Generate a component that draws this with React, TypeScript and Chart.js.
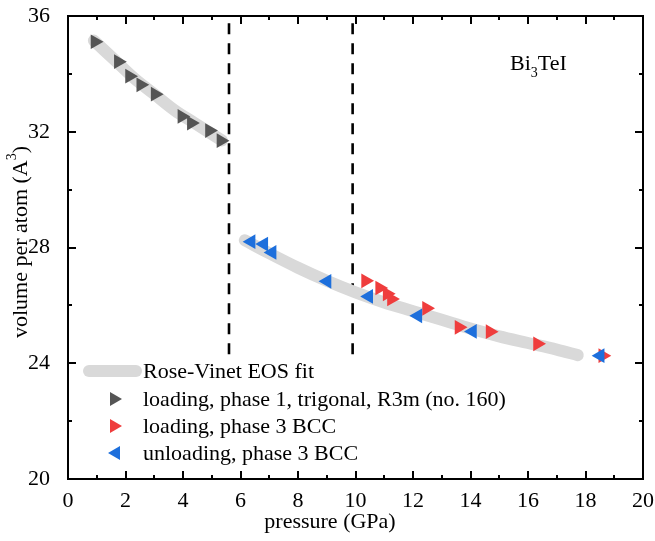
import React, { useEffect, useRef } from "react";
import { Chart, registerables } from "chart.js";

Chart.register(...registerables);

// ---- data ----
const phase1X = [0.94, 1.75, 2.14, 2.53, 3.03, 3.96, 4.29, 4.92, 5.32];
const phase1Y = [35.11, 34.42, 33.92, 33.62, 33.3, 32.53, 32.3, 32.04, 31.69];

const loadBccX = [10.35, 10.84, 11.1, 11.25, 12.47, 13.6, 14.68, 16.33, 18.6];
const loadBccY = [26.85, 26.6, 26.4, 26.22, 25.9, 25.24, 25.09, 24.67, 24.26];

const unloadBccX = [6.37, 6.81, 7.1, 9.01, 10.46, 12.17, 14.07, 18.51];
const unloadBccY = [28.2, 28.12, 27.83, 26.83, 26.31, 25.64, 25.1, 24.26];

const fit1X = [0.9, 1.6, 2.3, 3.0, 3.7, 4.4, 5.35];
const fit1Y = [35.15, 34.5, 33.85, 33.3, 32.75, 32.3, 31.7];

const fit3X = [6.15, 7, 8, 9, 10, 11, 12, 13, 14, 15, 16, 17, 17.73];
const fit3Y = [28.25, 27.8, 27.3, 26.85, 26.45, 26.1, 25.8, 25.5, 25.2, 24.93, 24.7, 24.47, 24.28];

const boundaryX = [5.6, 9.9];
const boundaryY = [24.2, 35.75];

const legendLabels = [
  "Rose-Vinet EOS fit",
  "loading, phase 1, trigonal, R3m (no. 160)",
  "loading, phase 3 BCC",
  "unloading, phase 3 BCC",
];

const xTicks = [0, 2, 4, 6, 8, 10, 12, 14, 16, 18, 20];
const yTicks = [20, 24, 28, 32, 36];

const FONT = "'Liberation Serif', 'Times New Roman', serif";
const GREY = "#555555";
const RED = "#ef3d3d";
const BLUE = "#1d6fdc";
const FIT = "#d9d9d9";

const zip = (xs: number[], ys: number[]) => xs.map((x, i) => ({ x, y: ys[i] }));

const decorPlugin = {
  id: "decor",
  afterDatasetsDraw(chart: any) {
    const { ctx, chartArea: a, scales } = chart;
    const xs = scales.x;
    const ys = scales.y;
    ctx.save();
    // frame
    ctx.strokeStyle = "#000";
    ctx.lineWidth = 2;
    ctx.strokeRect(a.left, a.top, a.right - a.left, a.bottom - a.top);
    // ticks
    ctx.lineWidth = 2;
    for (let v = 0; v <= 20; v += 1) {
      const px = Math.round(xs.getPixelForValue(v));
      const len = v % 2 === 0 ? 8 : 4;
      ctx.beginPath();
      ctx.moveTo(px, a.bottom);
      ctx.lineTo(px, a.bottom - len);
      ctx.moveTo(px, a.top);
      ctx.lineTo(px, a.top + len);
      ctx.stroke();
    }
    for (let v = 20; v <= 36; v += 2) {
      const py = Math.round(ys.getPixelForValue(v));
      const len = v % 4 === 0 ? 8 : 4;
      ctx.beginPath();
      ctx.moveTo(a.left, py);
      ctx.lineTo(a.left + len, py);
      ctx.moveTo(a.right, py);
      ctx.lineTo(a.right - len, py);
      ctx.stroke();
    }

    // axis titles
    ctx.fillStyle = "#000";
    ctx.font = `22px ${FONT}`;
    ctx.textAlign = "center";
    ctx.textBaseline = "alphabetic";
    ctx.fillText("pressure (GPa)", 330, 528);

    // y title with superscript
    ctx.save();
    ctx.translate(27, 242);
    ctx.rotate(-Math.PI / 2);
    const main = "volume per atom (A";
    ctx.font = `22px ${FONT}`;
    const w1 = ctx.measureText(main).width;
    ctx.font = `14px ${FONT}`;
    const w2 = ctx.measureText("3").width;
    ctx.font = `22px ${FONT}`;
    const w3 = ctx.measureText(")").width;
    const total = w1 + w2 + w3;
    let sx = -total / 2;
    ctx.textAlign = "left";
    ctx.fillText(main, sx, 0);
    sx += w1;
    ctx.font = `14px ${FONT}`;
    ctx.fillText("3", sx, -11);
    sx += w2;
    ctx.font = `22px ${FONT}`;
    ctx.fillText(")", sx, 0);
    ctx.restore();

    // Bi3TeI label
    ctx.textAlign = "left";
    ctx.font = `22px ${FONT}`;
    let bx = 510;
    ctx.fillText("Bi", bx, 70);
    bx += ctx.measureText("Bi").width;
    ctx.font = `14px ${FONT}`;
    ctx.fillText("3", bx, 77);
    bx += ctx.measureText("3").width;
    ctx.font = `22px ${FONT}`;
    ctx.fillText("TeI", bx, 70);

    // legend
    const rows = [371, 399, 426, 453];
    ctx.textBaseline = "middle";
    ctx.font = `22px ${FONT}`;
    legendLabels.forEach((label, i) => {
      const y = rows[i];
      if (i === 0) {
        ctx.strokeStyle = FIT;
        ctx.lineWidth = 12;
        ctx.lineCap = "round";
        ctx.beginPath();
        ctx.moveTo(89, y);
        ctx.lineTo(136, y);
        ctx.stroke();
      } else {
        const color = i === 1 ? GREY : i === 2 ? RED : BLUE;
        const dir = i === 3 ? -1 : 1;
        ctx.fillStyle = color;
        ctx.beginPath();
        ctx.moveTo(115 + dir * 7, y);
        ctx.lineTo(115 - dir * 5, y - 7);
        ctx.lineTo(115 - dir * 5, y + 7);
        ctx.closePath();
        ctx.fill();
      }
      ctx.fillStyle = "#000";
      ctx.fillText(label, 143, y + 1);
    });
    ctx.restore();
  },
};

export default function App() {
  const ref = useRef<HTMLCanvasElement | null>(null);
  useEffect(() => {
    document.body.style.margin = "0";
    if (!ref.current) return;
    const markerCommon = {
      pointStyle: "triangle",
      pointRadius: 8.5,
      pointBorderWidth: 0,
      showLine: false,
    };
    const chart = new Chart(ref.current, {
      type: "scatter",
      data: {
        datasets: [
          {
            label: "unloading",
            data: zip(unloadBccX, unloadBccY),
            backgroundColor: BLUE,
            borderColor: BLUE,
            rotation: -90,
            order: 0,
            ...markerCommon,
          } as any,
          {
            label: "loading3",
            data: zip(loadBccX, loadBccY),
            backgroundColor: RED,
            borderColor: RED,
            rotation: 90,
            order: 1,
            ...markerCommon,
          } as any,
          {
            label: "phase1",
            data: zip(phase1X, phase1Y),
            backgroundColor: GREY,
            borderColor: GREY,
            rotation: 90,
            order: 2,
            ...markerCommon,
          } as any,
          {
            label: "fit1",
            data: zip(fit1X, fit1Y),
            showLine: true,
            borderColor: FIT,
            borderWidth: 12,
            borderCapStyle: "round",
            borderJoinStyle: "round",
            pointRadius: 0,
            cubicInterpolationMode: "monotone",
            order: 3,
          } as any,
          {
            label: "fit3",
            data: zip(fit3X, fit3Y),
            showLine: true,
            borderColor: FIT,
            borderWidth: 12,
            borderCapStyle: "round",
            borderJoinStyle: "round",
            pointRadius: 0,
            cubicInterpolationMode: "monotone",
            order: 3,
          } as any,
          ...boundaryX.map((bx) => ({
            label: "boundary",
            data: [
              { x: bx, y: boundaryY[1] },
              { x: bx, y: boundaryY[0] },
            ],
            showLine: true,
            borderColor: "#000",
            borderWidth: 2.6,
            borderDash: [11, 9],
            pointRadius: 0,
            order: 4,
          })) as any,
        ],
      },
      options: {
        animation: false,
        responsive: false,
        maintainAspectRatio: false,
        layout: { padding: { top: 16, right: 12, left: 0, bottom: 0 } },
        plugins: {
          legend: { display: false },
          tooltip: { enabled: false },
        },
        scales: {
          x: {
            type: "linear",
            min: 0,
            max: 20,
            afterBuildTicks: (s: any) => {
              s.ticks = xTicks.map((v) => ({ value: v }));
            },
            afterFit: (s: any) => {
              s.height = 62;
              s.paddingLeft = 0;
              s.paddingRight = 0;
            },
            ticks: {
              font: { family: FONT, size: 22 },
              color: "#000",
              padding: 1,
              maxRotation: 0,
              autoSkip: false,
            },
            grid: { display: false },
            border: { display: false },
          },
          y: {
            type: "linear",
            min: 20,
            max: 36,
            afterBuildTicks: (s: any) => {
              s.ticks = yTicks.map((v) => ({ value: v }));
            },
            afterFit: (s: any) => {
              s.width = 68;
              s.paddingTop = 0;
              s.paddingBottom = 0;
            },
            ticks: {
              font: { family: FONT, size: 22 },
              color: "#000",
              padding: 10,
              autoSkip: false,
            },
            grid: { display: false },
            border: { display: false },
          },
        },
      } as any,
      plugins: [decorPlugin],
    });
    return () => chart.destroy();
  }, []);
  return (
    <div style={{ width: 655, height: 541, background: "#fff" }}>
      <canvas ref={ref} width={655} height={541} style={{ display: "block" }} />
    </div>
  );
}
